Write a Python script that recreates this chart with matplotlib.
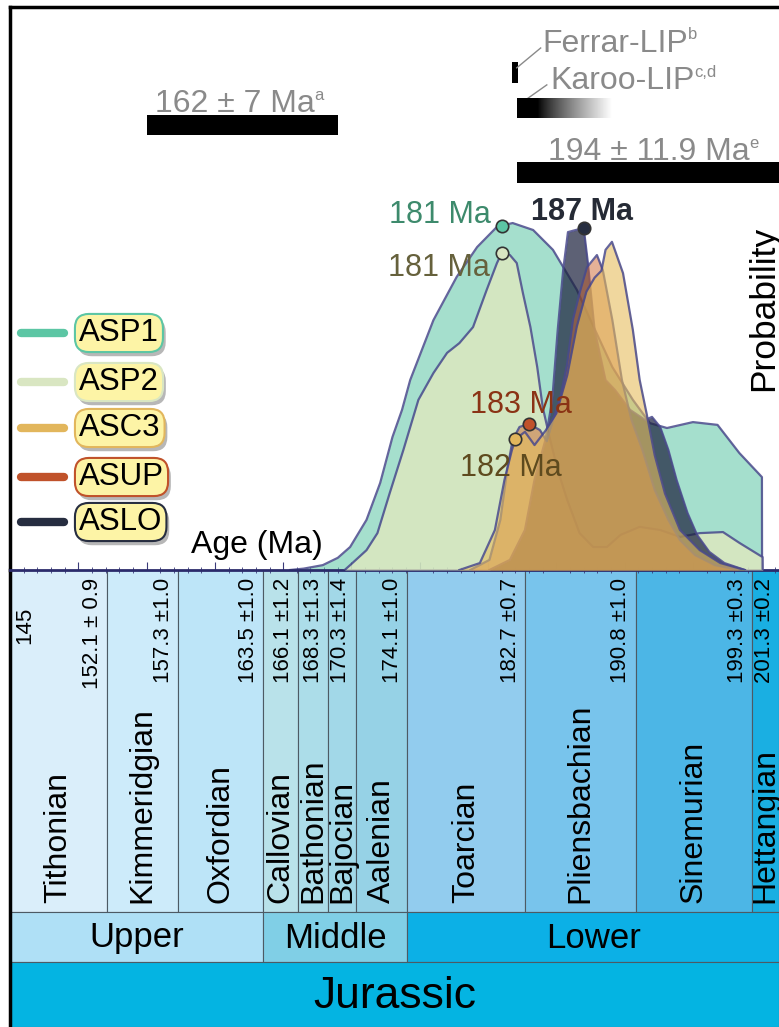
import numpy as np
import matplotlib
matplotlib.use("Agg")
from matplotlib import pyplot as plt
from matplotlib import patheffects

plt.rcParams['font.family'] = ['Liberation Sans', 'DejaVu Sans']

# ---- density curves (age in Ma, relative probability) ----
asp1_age = [165.5, 166.5, 167.9, 169.0, 169.9, 171.1, 172.1, 173.0, 173.7, 174.3, 176.0, 177.7,
            179.2, 180.65, 181.8, 183.3, 184.75, 186.5, 187.5, 189.1, 190.6, 191.85, 193.1,
            195.0, 196.8, 198.4, 200.05, 200.06]
asp1_prob = [0, 0.004, 0.014, 0.035, 0.066, 0.144, 0.25, 0.382, 0.46, 0.546, 0.718, 0.842,
             0.928, 0.986, 0.997, 0.977, 0.92, 0.805, 0.718, 0.583, 0.489, 0.422, 0.408,
             0.425, 0.417, 0.336, 0.267, 0]

asp2_age = [169.5, 169.9, 171.1, 171.9, 172.8, 173.8, 174.9, 176.0, 177.0, 177.9, 178.9, 179.9,
            180.65, 181.0, 181.6, 182.1, 182.55, 183.1, 183.6, 184.0, 184.5, 185.1, 185.8,
            186.7, 187.7, 188.7, 189.7, 191.1, 192.6, 194.05, 195.5, 197.2, 198.4, 200.1, 200.11]
asp2_prob = [0, 0.014, 0.057, 0.106, 0.221, 0.345, 0.489, 0.566, 0.624, 0.652, 0.698, 0.805,
             0.882, 0.911, 0.905, 0.882, 0.796, 0.698, 0.583, 0.468, 0.382, 0.287, 0.201,
             0.106, 0.066, 0.066, 0.101, 0.124, 0.115, 0.095, 0.106, 0.109, 0.078, 0.037, 0]

aslo_age = [180.1, 181.6, 182.7, 183.4, 184.2, 184.7, 185.1, 185.5, 185.85, 187.0, 187.3, 187.8,
            188.6, 189.3, 190.4, 191.5, 192.0, 192.6, 193.2, 193.8, 194.6, 195.3, 196.2,
            197.3, 198.8]
aslo_prob = [0, 0.029, 0.115, 0.259, 0.374, 0.489, 0.69, 0.862, 0.971, 0.983, 0.885, 0.69,
             0.546, 0.517, 0.46, 0.431, 0.44, 0.411, 0.345, 0.259, 0.164, 0.101, 0.052,
             0.02, 0]

asup_age = [178.7, 180.1, 180.9, 181.4, 181.8, 182.3, 183.0, 183.8, 184.3, 184.75, 185.26, 185.78,
            186.22, 186.73, 187.24, 187.97, 188.4, 189.1, 189.8, 190.5, 191.3, 192.2, 193.2,
            194.05, 195.15, 196.6, 198.4]
asup_prob = [0, 0.029, 0.144, 0.287, 0.374, 0.411, 0.42, 0.402, 0.37, 0.43, 0.49, 0.59,
             0.72, 0.80, 0.87, 0.905, 0.862, 0.718, 0.546, 0.431, 0.345, 0.23, 0.144,
             0.086, 0.043, 0.014, 0]

asc3_age = [177.9, 179.4, 180.5, 181.2, 181.75, 182.0, 182.7, 183.4, 184.2, 185.0, 185.8, 186.5,
            187.2, 187.8, 188.3, 188.6, 189.07, 189.88, 190.6, 191.1, 191.6, 192.2, 192.95,
            194.05, 195.5, 197.0, 198.8]
asc3_prob = [0, 0.02, 0.115, 0.259, 0.345, 0.376, 0.397, 0.359, 0.40, 0.45, 0.56, 0.70,
             0.80, 0.84, 0.86, 0.92, 0.943, 0.853, 0.69, 0.546, 0.451, 0.33, 0.22, 0.115,
             0.057, 0.02, 0]

samples = ['ASP1', 'ASP2', 'ASC3', 'ASUP', 'ASLO']
line_colors = ['#5cc6a4', '#d9e6c2', '#e2b65c', '#c0522a', '#262d40']
peak_ages = [181, 181, 182, 183, 187]
peak_text_colors = ['#3d8a6c', '#66613c', '#5e4a1e', '#8a3315', '#252a35']

# ---- reference ages ----
ref_centre = [162, 194]
ref_err = [7, 11.9]
ferrar_ages = [181.75, 182.2]
karoo_ages = [182.1, 189.0]

# ---- time scale ----
stage_bounds = [145, 152.1, 157.3, 163.5, 166.1, 168.3, 170.3, 174.1, 182.7, 190.8, 199.3, 201.3]
stage_names = ['Tithonian', 'Kimmeridgian', 'Oxfordian', 'Callovian', 'Bathonian', 'Bajocian',
               'Aalenian', 'Toarcian', 'Pliensbachian', 'Sinemurian', 'Hettangian']
stage_colors = ['#daeefa', '#cdebfa', '#bde5f8', '#b9e2ea', '#acdde9', '#a2d8e8', '#96d2e6',
                '#92ccee', '#78c4ec', '#4cb6e6', '#1aafe2']
bound_labels = ['152.1 ± 0.9', '157.3 ±1.0', '163.5 ±1.0', '166.1 ±1.2', '168.3 ±1.3',
                '170.3 ±1.4', '174.1 ±1.0', '182.7 ±0.7', '190.8 ±1.0', '199.3 ±0.3', '201.3 ±0.2']
series_bounds = [145, 163.5, 174.1, 201.3]
series_names = ['Upper', 'Middle', 'Lower']
series_colors = ['#afe0f6', '#80cfe6', '#0cb0e6']

W, H = 779, 1027
fig = plt.figure(figsize=(W / 100, H / 100), dpi=100)

x0, x1 = 145, 201.3
left = 10 / W

# time scale panel (drawn first so the plot axis sits on top)
ts = fig.add_axes([left, 0, 1 - left, 457 / H])
ts.set_xlim(x0, x1)
ts.set_ylim(457, 0)
ts.axis('off')
for i in range(len(stage_names)):
    a, b = stage_bounds[i], stage_bounds[i + 1]
    ts.broken_barh([(a, b - a)], (0, 342), facecolors=stage_colors[i],
                   edgecolor='#4d5a64', linewidth=0.8)
    ts.text((a + b) / 2, 333, stage_names[i], rotation=90, ha='center', va='bottom',
            fontsize=23, color='black')
for b, lab in zip(stage_bounds[1:], bound_labels):
    ts.text(b - 0.3, 8, lab, rotation=90, ha='right', va='top', fontsize=16)
ts.text(146.1, 37, '145', rotation=90, ha='center', va='top', fontsize=16)
for i in range(len(series_names)):
    a, b = series_bounds[i], series_bounds[i + 1]
    ts.broken_barh([(a, b - a)], (342, 50), facecolors=series_colors[i],
                   edgecolor='#4d5a64', linewidth=0.8)
    ts.text((a + b) / 2, 368, series_names[i], ha='center', va='center', fontsize=25)
ts.broken_barh([(x0, x1 - x0)], (392, 65), facecolors='#04b4e2', edgecolor='#4d5a64',
               linewidth=0.8)
ts.text((x0 + x1) / 2, 426, 'Jurassic', ha='center', va='center', fontsize=32)
ts.plot([x0, x0], [0, 457], color='black', lw=2.5, clip_on=False)

# probability panel
ax = fig.add_axes([left, (H - 570) / H, 1 - left, 563 / H])
ax.set_xlim(x0, x1)
ax.set_ylim(0, 563 / 348)
ax.spines['right'].set_visible(False)
ax.spines['left'].set_color('black')
ax.spines['left'].set_linewidth(2.5)
ax.spines['top'].set_color('black')
ax.spines['top'].set_linewidth(2.5)
ax.spines['bottom'].set_color('#2b2b6b')
ax.spines['bottom'].set_linewidth(2)
ax.set_xticks(np.arange(150, 201, 5))
ax.set_xticks(np.arange(146, 202, 1), minor=True)
ax.tick_params(axis='x', which='major', direction='in', length=6, color='#3a3a7a', labelbottom=False)
ax.tick_params(axis='x', which='minor', direction='inout', length=4, color='#3a3a7a')
ax.set_yticks([])

curves = [(asp1_age, asp1_prob, '#5cc6a4', 0.55),
          (asp2_age, asp2_prob, '#dfe8bf', 0.8),
          (aslo_age, aslo_prob, '#1e2440', 0.72),
          (asup_age, asup_prob, '#cc6530', 0.5),
          (asc3_age, asc3_prob, '#e6bd5e', 0.6)]
for z, (ages, probs, col, a) in enumerate(curves):
    ax.fill_between(ages, probs, 0, color=col, alpha=a, lw=0, zorder=2 + z)
    ax.plot(ages, probs, color='#4a4a8c', lw=1.6, alpha=0.85, zorder=2 + z)

# peak markers and their labels
series_by_name = {'ASP1': (asp1_age, asp1_prob), 'ASP2': (asp2_age, asp2_prob),
                  'ASC3': (asc3_age, asc3_prob), 'ASUP': (asup_age, asup_prob),
                  'ASLO': (aslo_age, aslo_prob)}
label_offsets = {'ASP1': (-11, 11, 'right'), 'ASP2': (-12, -15, 'right'),
                 'ASC3': (-5, -29, 'center'), 'ASUP': (-8, 19, 'center'),
                 'ASLO': (-2, 16, 'center')}
for name, col, pa, tc in zip(samples, line_colors, peak_ages, peak_text_colors):
    ages, probs = series_by_name[name]
    py = np.interp(pa, ages, probs)
    ax.scatter([pa], [py], s=80, color=col, edgecolor='#333333', lw=1.2, zorder=20)
    dx, dy, ha = label_offsets[name]
    ax.annotate(f'{pa} Ma', xy=(pa, py), xytext=(dx, dy), textcoords='offset pixels',
                ha=ha, va='center', fontsize=22, color=tc,
                fontweight='bold' if name == 'ASLO' else 'normal', zorder=21)


def grey_label(x, y, main, sup):
    t = ax.text(x, y, main, fontsize=23, color=grey, va='baseline')
    ax.annotate(sup, xy=(1, 1), xycoords=t, xytext=(-0.5, 1), textcoords='offset points',
                fontsize=12, color=grey, ha='left', va='top')


# reference age bars
grey = '#8a8a8a'
ax.broken_barh([(ref_centre[0] - ref_err[0], 2 * ref_err[0])], (1.25, 0.057), facecolors='black')
grey_label(155.6, 1.316, '162 ± 7 Ma', 'a')
ax.broken_barh([(ref_centre[1] - ref_err[1], 2 * ref_err[1])], (1.112, 0.06), facecolors='black',
               clip_on=False)
grey_label(184.4, 1.178, '194 ± 11.9 Ma', 'e')
ax.broken_barh([(ferrar_ages[0], ferrar_ages[1] - ferrar_ages[0])], (1.399, 0.061),
               facecolors='black')
ax.plot([182.1, 183.85], [1.443, 1.50], color=grey, lw=1)
grey_label(184.0, 1.489, 'Ferrar-LIP', 'b')
ramp = np.clip((np.linspace(0, 1, 256) - 0.22) / 0.78, 0, 1) ** 0.8
ax.imshow(ramp[np.newaxis, :], cmap='gray', vmin=0, vmax=1, aspect='auto',
          extent=[karoo_ages[0], karoo_ages[1], 1.299, 1.356], zorder=3)
ax.plot([182.75, 184.3], [1.351, 1.394], color=grey, lw=1)
grey_label(184.55, 1.382, 'Karoo-LIP', 'c,d')
ax.set_xlim(x0, x1)
ax.set_ylim(0, 563 / 348)

# legend
leg_y = [333, 382, 428, 477, 522]
for name, col, py in zip(samples, line_colors, leg_y):
    yf = (570 - py) / 563
    ax.plot([(21 - 10) / 769, (64 - 10) / 769], [yf, yf], transform=ax.transAxes,
            color=col, lw=6, solid_capstyle='round', zorder=30)
    t = ax.text((79 - 10) / 769, yf, name, transform=ax.transAxes, ha='left', va='center',
                fontsize=22.5, color='black', zorder=31,
                bbox=dict(boxstyle='round,pad=0.13,rounding_size=0.45', fc='#fdf4a6',
                          ec=col, lw=1.5))
    t.get_bbox_patch().set_path_effects([
        patheffects.SimplePatchShadow(offset=(2, -3), shadow_rgbFace='#888888', alpha=0.6),
        patheffects.Normal()])

ax.text((257 - 10) / 769, (570 - 545) / 563, 'Age (Ma)', transform=ax.transAxes,
        ha='center', va='center', fontsize=23)
ax.text((764 - 10) / 769, (570 - 308) / 563, 'Probability', transform=ax.transAxes,
        ha='center', va='center', rotation=90, fontsize=25.5)

fig.savefig('out.png', dpi=100)
